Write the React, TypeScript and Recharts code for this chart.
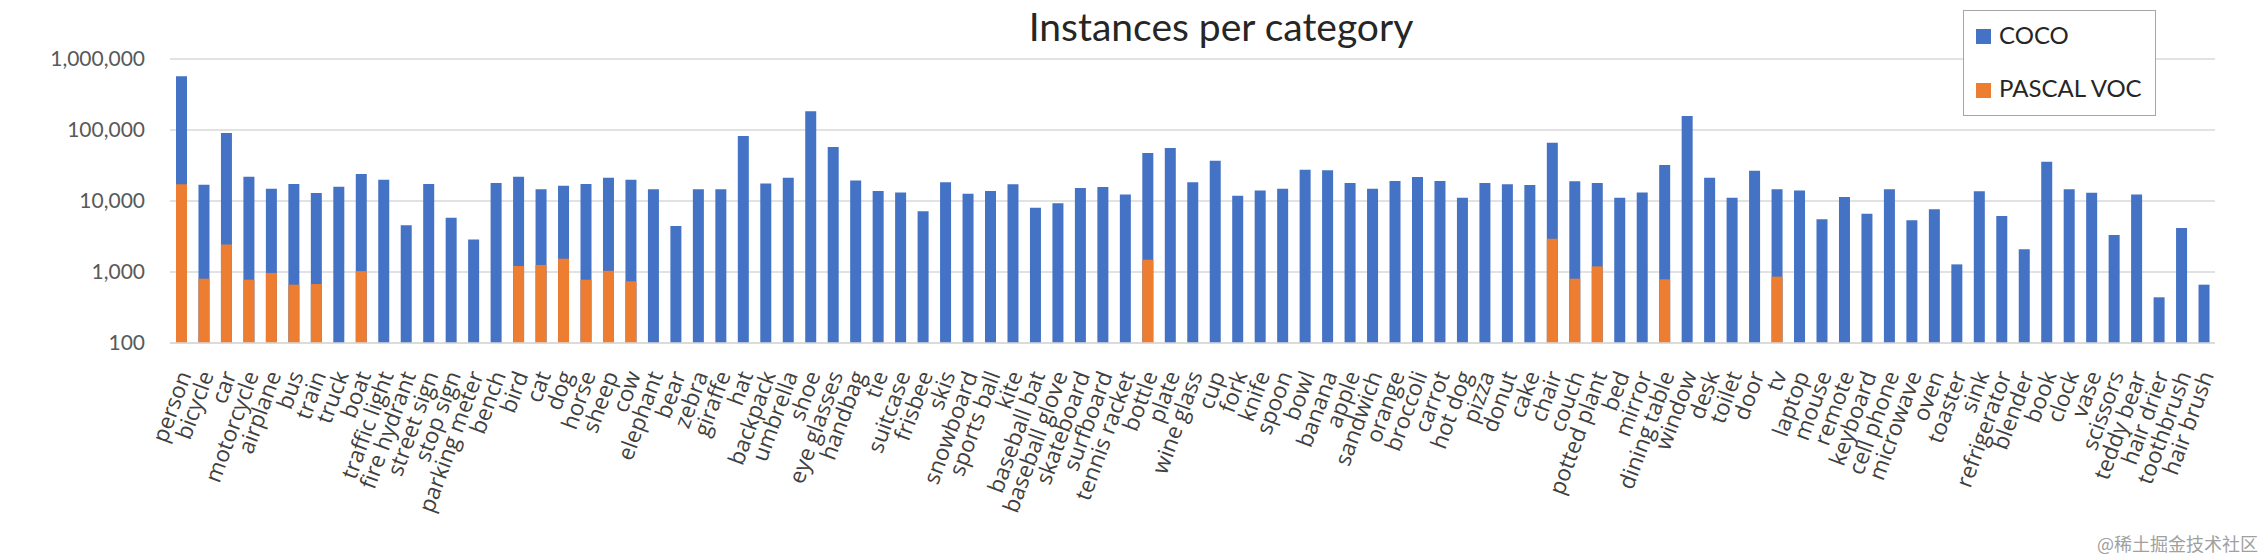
import React from 'react';
import { BarChart, Bar, XAxis, YAxis, CartesianGrid, Legend } from 'recharts';

const categories = [
  'person', 'bicycle', 'car', 'motorcycle', 'airplane', 'bus', 'train', 'truck', 'boat',
  'traffic light', 'fire hydrant', 'street sign', 'stop sign', 'parking meter', 'bench',
  'bird', 'cat', 'dog', 'horse', 'sheep', 'cow', 'elephant', 'bear', 'zebra', 'giraffe',
  'hat', 'backpack', 'umbrella', 'shoe', 'eye glasses', 'handbag', 'tie', 'suitcase',
  'frisbee', 'skis', 'snowboard', 'sports ball', 'kite', 'baseball bat', 'baseball glove',
  'skateboard', 'surfboard', 'tennis racket', 'bottle', 'plate', 'wine glass', 'cup',
  'fork', 'knife', 'spoon', 'bowl', 'banana', 'apple', 'sandwich', 'orange', 'broccoli',
  'carrot', 'hot dog', 'pizza', 'donut', 'cake', 'chair', 'couch', 'potted plant', 'bed',
  'mirror', 'dining table', 'window', 'desk', 'toilet', 'door', 'tv', 'laptop', 'mouse',
  'remote', 'keyboard', 'cell phone', 'microwave', 'oven', 'toaster', 'sink',
  'refrigerator', 'blender', 'book', 'clock', 'vase', 'scissors', 'teddy bear',
  'hair drier', 'toothbrush', 'hair brush',
];

const cocoCounts = [
  570000, 17000, 90800, 22000, 14900, 17300, 13000, 15900, 24000,
  19900, 4540, 17300, 5820, 2880, 17900,
  22000, 14600, 16400, 17300, 21300, 19900, 14600, 4450, 14600, 14600,
  82200, 17700, 21300, 183000, 57600, 19500, 13800, 13200,
  7150, 18300, 12600, 13800, 17200, 8060, 9270,
  15200, 15700, 12300, 47400, 55800, 18300, 37000,
  11900, 14100, 14900, 27600, 27000, 17900, 14900, 19100, 21800,
  19100, 11100, 17900, 17200, 16800, 66300, 18900, 17900, 11100,
  13200, 32100, 157000, 21300, 11100, 26700, 14600, 14000, 5520,
  11400, 6630, 14600, 5340, 7630, 1280, 13700,
  6150, 2090, 35800, 14600, 13100, 3320, 12300,
  440, 4170, 663,
];

const pascalCounts: (number | null)[] = [
  17200, 805, 2430, 780, 970, 663, 677, null, 1030,
  null, null, null, null, null, null,
  1217, 1257, 1540, 780, 1040, 740, null, null, null, null,
  null, null, null, null, null, null, null, null,
  null, null, null, null, null, null, null,
  null, null, null, 1490, null, null, null,
  null, null, null, null, null, null, null, null, null,
  null, null, null, null, null, 2950, 805, 1200, null,
  null, 789, null, null, null, null, 860, null, null,
  null, null, null, null, null, null, null,
  null, null, null, null, null, null, null,
  null, null, null,
];

const yTicks = [100, 1000, 10000, 100000, 1000000];
const seriesNames = ['COCO', 'PASCAL VOC'];
const seriesColors = ['#4472C4', '#ED7D31'];
const titleText = 'Instances per category';
const watermarkText = '@稀土掘金技术社区';

const data = categories.map((name, i) => ({
  name,
  coco: cocoCounts[i],
  pascal: pascalCounts[i],
}));

const XTick = (props: any) => {
  const { x, y, payload } = props;
  return (
    <g transform={`translate(${x + 3},${y})`}>
      <text
        x={0}
        y={0}
        dy="0.35em"
        textAnchor="end"
        transform="rotate(-70)"
        fontFamily="'Open Sans', sans-serif"
        fontSize={22.5}
        fill="#404040"
      >
        {payload.value}
      </text>
    </g>
  );
};

const LegendBox = () => (
  <div
    style={{
      width: 193,
      height: 106,
      border: '1.5px solid #a6a6a6',
      background: '#fff',
      boxSizing: 'border-box',
      position: 'relative',
      fontFamily: 'Lato, sans-serif',
      fontSize: 24,
      lineHeight: '24px',
      color: '#262626',
    }}
  >
    {seriesNames.map((n, i) => (
      <div key={n}>
        <div
          style={{
            position: 'absolute',
            left: 12,
            top: 18 + i * 54,
            width: 15,
            height: 15,
            background: seriesColors[i],
          }}
        />
        <div style={{ position: 'absolute', left: 35, top: 12 + i * 53, whiteSpace: 'nowrap' }}>{n}</div>
      </div>
    ))}
  </div>
);

export default function App() {
  return (
    <div style={{ position: 'absolute', left: 0, top: 0, width: 2266, height: 554, background: '#fff' }}>
      <BarChart
        width={2266}
        height={554}
        data={data}
        margin={{ top: 59, right: 51, bottom: 0, left: 0 }}
        barGap={-11}
        barSize={11}
      >
        <CartesianGrid vertical={false} stroke="#d9d9d9" strokeWidth={1.5} />
        <XAxis
          dataKey="name"
          interval={0}
          height={211}
          tickLine={false}
          tickSize={0}
          tickMargin={29}
          axisLine={{ stroke: '#d9d9d9', strokeWidth: 1.5 }}
          tick={<XTick />}
        />
        <YAxis
          scale="log"
          domain={[100, 1000000]}
          ticks={yTicks}
          allowDataOverflow
          axisLine={false}
          tickLine={false}
          tickSize={0}
          tickMargin={25}
          width={170}
          tickFormatter={(v: number) => v.toLocaleString('en-US')}
          tick={{ fontFamily: 'Lato, sans-serif', fontSize: 21, fill: '#595959' }}
        />
        <Legend
          layout="vertical"
          align="center"
          verticalAlign="middle"
          content={<LegendBox />}
          wrapperStyle={{ top: 10, left: 1963, width: 193, height: 106 }}
        />
        <Bar dataKey="coco" name={seriesNames[0]} fill={seriesColors[0]} isAnimationActive={false} />
        <Bar dataKey="pascal" name={seriesNames[1]} fill={seriesColors[1]} isAnimationActive={false} />
        <text
          x={1221}
          y={41}
          textAnchor="middle"
          fontFamily="Lato, sans-serif"
          fontSize={39}
          fill="#262626"
        >
          {titleText}
        </text>
        <text
          x={2258}
          y={551}
          textAnchor="end"
          fontFamily="'Noto Sans CJK SC', sans-serif"
          fontSize={18}
          fill="#a0a0a0"
        >
          {watermarkText}
        </text>
      </BarChart>
    </div>
  );
}
